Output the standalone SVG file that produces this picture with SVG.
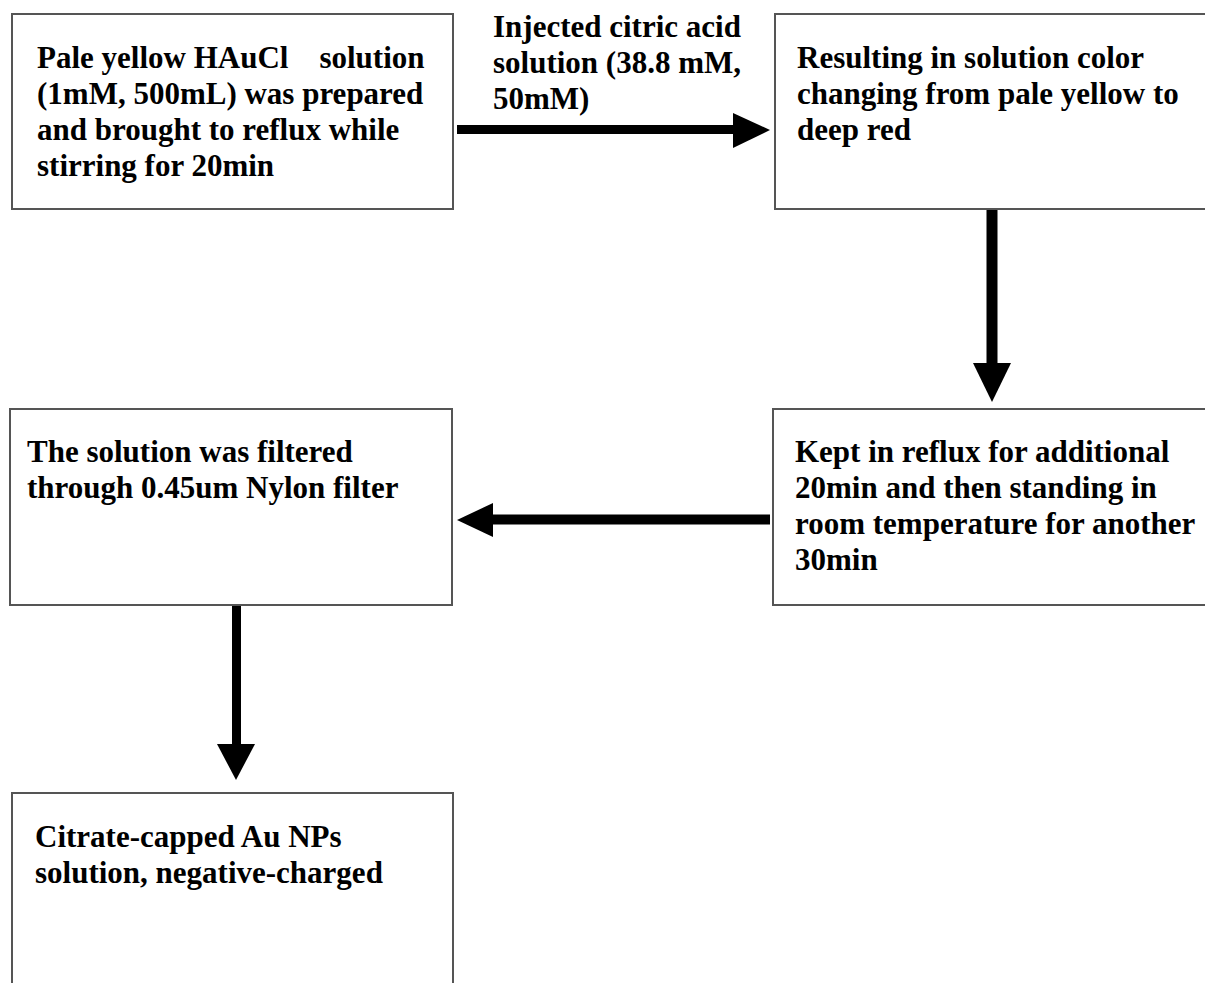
<svg xmlns="http://www.w3.org/2000/svg" width="1205" height="983" viewBox="0 0 1205 983">
<style>
.box{fill:#fff;stroke:#555;stroke-width:2}
.t{font-family:"Liberation Serif","Times New Roman",serif;font-weight:bold;font-size:31px;fill:#000;white-space:pre}
.shaft{stroke:#000;fill:none}
.head{fill:#000;stroke:none}
</style>
<rect width="1205" height="983" fill="#fff"/>
<g id="connectors">
<line class="shaft" x1="457" y1="129.5" x2="735" y2="129.5" stroke-width="9"/>
<polygon class="head" points="733,113 770,130 733,148"/>
<line class="shaft" x1="992" y1="207" x2="992" y2="365" stroke-width="11"/>
<polygon class="head" points="973,363 1011,363 992,402"/>
<line class="shaft" x1="770" y1="519.5" x2="491" y2="519.5" stroke-width="10"/>
<polygon class="head" points="493,503 457,520 493,537"/>
<line class="shaft" x1="236.5" y1="597" x2="236.5" y2="746" stroke-width="9"/>
<polygon class="head" points="217,744 255,744 236,780"/>
<text class="t" x="493" y="37">Injected citric acid</text>
<text class="t" x="493" y="73">solution (38.8 mM,</text>
<text class="t" x="493" y="109">50mM)</text>
</g>
<g id="n1">
<rect class="box" x="12" y="14" width="441" height="195"/>
<text class="t" x="37" y="68" xml:space="preserve">Pale yellow HAuCl    solution</text>
<text class="t" x="37" y="104">(1mM, 500mL) was prepared</text>
<text class="t" x="37" y="140">and brought to reflux while</text>
<text class="t" x="37" y="176">stirring for 20min</text>
</g>
<g id="n2">
<rect class="box" x="775" y="14" width="440" height="195"/>
<text class="t" x="797" y="68">Resulting in solution color</text>
<text class="t" x="797" y="104">changing from pale yellow to</text>
<text class="t" x="797" y="140">deep red</text>
</g>
<g id="n3">
<rect class="box" x="773" y="409" width="442" height="196"/>
<text class="t" x="795" y="462">Kept in reflux for additional</text>
<text class="t" x="795" y="498">20min and then standing in</text>
<text class="t" x="795" y="534">room temperature for another</text>
<text class="t" x="795" y="570">30min</text>
</g>
<g id="n4">
<rect class="box" x="10" y="409" width="442" height="196"/>
<text class="t" x="27" y="462">The solution was filtered</text>
<text class="t" x="27" y="498">through 0.45um Nylon filter</text>
</g>
<g id="n5">
<rect class="box" x="12" y="793" width="441" height="200"/>
<text class="t" x="35" y="847">Citrate-capped Au NPs</text>
<text class="t" x="35" y="883">solution, negative-charged</text>
</g>
</svg>
